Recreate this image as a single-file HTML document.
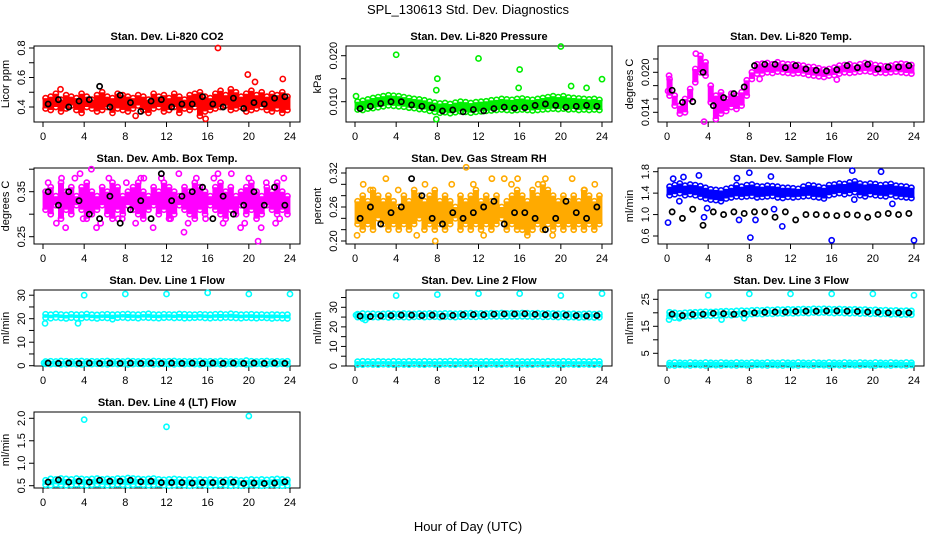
<!DOCTYPE html>
<html><head><meta charset="utf-8"><style>
html,body{margin:0;padding:0;background:#fff;}
svg{display:block;font-family:"Liberation Sans",sans-serif;}
</style></head><body>
<svg id="chart" width="936" height="540" viewBox="0 0 936 540" xmlns="http://www.w3.org/2000/svg">
<text x="468" y="14" text-anchor="middle" font-size="13">SPL_130613  Std. Dev. Diagnostics</text>
<text x="468" y="531" text-anchor="middle" font-size="13">Hour of Day (UTC)</text>
</svg>
<script>
const hours48=[0.25,0.75,1.25,1.75,2.25,2.75,3.25,3.75,4.25,4.75,5.25,5.75,6.25,6.75,7.25,7.75,8.25,8.75,9.25,9.75,10.25,10.75,11.25,11.75,12.25,12.75,13.25,13.75,14.25,14.75,15.25,15.75,16.25,16.75,17.25,17.75,18.25,18.75,19.25,19.75,20.25,20.75,21.25,21.75,22.25,22.75,23.25,23.75];
const hours24=[0.5,1.5,2.5,3.5,4.5,5.5,6.5,7.5,8.5,9.5,10.5,11.5,12.5,13.5,14.5,15.5,16.5,17.5,18.5,19.5,20.5,21.5,22.5,23.5];
const xTicks=[0,4,8,12,16,20,24];

// CO2
const co2Hi=[0.46,0.47,0.49,0.45,0.48,0.47,0.46,0.49,0.47,0.45,0.48,0.50,0.47,0.46,0.49,0.48,0.47,0.46,0.48,0.47,0.45,0.49,0.47,0.48,0.46,0.49,0.47,0.45,0.48,0.49,0.50,0.47,0.46,0.49,0.51,0.48,0.52,0.50,0.47,0.49,0.51,0.48,0.50,0.47,0.49,0.48,0.50,0.47];
const co2Lo=[0.39,0.38,0.40,0.37,0.39,0.41,0.38,0.36,0.40,0.39,0.37,0.38,0.40,0.36,0.39,0.38,0.37,0.39,0.41,0.38,0.36,0.39,0.40,0.37,0.38,0.40,0.36,0.39,0.38,0.40,0.34,0.37,0.38,0.39,0.40,0.41,0.38,0.39,0.40,0.37,0.38,0.39,0.40,0.38,0.37,0.39,0.36,0.38];
const co2Black=[0.42,0.45,0.40,0.44,0.45,0.54,0.40,0.48,0.43,0.37,0.44,0.45,0.40,0.42,0.42,0.47,0.42,0.40,0.46,0.39,0.43,0.42,0.46,0.47];
const co2OutX=[17.0,19.9,20.6,23.3,15.8,1.7,9.0];
const co2OutY=[0.80,0.62,0.57,0.59,0.32,0.52,0.34];
// Pressure
const presHi=[.0100,.0102,.0105,.0108,.0110,.0112,.0114,.0113,.0112,.0110,.0108,.0106,.0105,.0103,.0100,.0098,.0096,.0097,.0095,.0098,.0100,.0099,.0097,.0099,.0100,.0101,.0103,.0104,.0106,.0105,.0104,.0106,.0107,.0105,.0104,.0106,.0108,.0110,.0112,.0110,.0112,.0109,.0108,.0107,.0106,.0105,.0106,.0104];
const presLo=[.0083,.0082,.0085,.0086,.0088,.0090,.0092,.0091,.0090,.0089,.0087,.0086,.0084,.0083,.0080,.0078,.0076,.0077,.0075,.0077,.0079,.0078,.0076,.0078,.0079,.0080,.0081,.0082,.0083,.0082,.0081,.0082,.0083,.0082,.0081,.0082,.0083,.0084,.0085,.0084,.0085,.0083,.0084,.0082,.0083,.0082,.0083,.0082];
const presBlack=[.0085,.0090,.0096,.0100,.0100,.0093,.0090,.0087,.0080,.0082,.0078,.0083,.0080,.0085,.0088,.0086,.0087,.0092,.0095,.0092,.0088,.0090,.0092,.0090];
const presOutX=[0.1,4.0,8.0,12.0,16.0,15.9,20.0,21.0,22.5,24.0,7.9,7.9];
const presOutY=[.0112,.0202,.0150,.0194,.0170,.0130,.0220,.0134,.0130,.0149,.0125,.0062];
// Li-820 temperature
const tempHi=[.0190,.0165,.0150,.0160,.0175,.0205,.0225,.0215,.0180,.0165,.0170,.0160,.0168,.0165,.0170,.0188,.0200,.0212,.0213,.0214,.0212,.0215,.0213,.0212,.0212,.0211,.0210,.0208,.0208,.0206,.0204,.0205,.0207,.0210,.0211,.0212,.0210,.0212,.0214,.0213,.0211,.0210,.0209,.0210,.0212,.0213,.0212,.0211];
const tempLo=[.0165,.0150,.0138,.0140,.0160,.0185,.0200,.0195,.0155,.0130,.0138,.0142,.0148,.0145,.0150,.0165,.0190,.0198,.0198,.0200,.0199,.0201,.0200,.0199,.0198,.0199,.0198,.0196,.0195,.0194,.0193,.0195,.0196,.0198,.0200,.0199,.0200,.0201,.0202,.0201,.0199,.0200,.0199,.0200,.0201,.0200,.0199,.0198];
const tempBlack=[.0173,.0155,.0156,.0200,.0150,.0162,.0168,.0178,.0210,.0212,.0212,.0207,.0210,.0205,.0203,.0202,.0204,.0210,.0207,.0212,.0205,.0208,.0208,.0210];
const tempOutX=[0.2,0.1,2.8,3.6,9.0,16.5];
const tempOutY=[.0195,.0172,.0228,.0126,.0190,.0189];
// Ambient box temperature
const ambHi=[.35,.36,.34,.37,.35,.36,.34,.36,.37,.35,.34,.36,.35,.37,.36,.34,.35,.36,.37,.35,.34,.36,.35,.37,.36,.35,.34,.36,.35,.37,.36,.35,.34,.36,.37,.35,.36,.34,.35,.36,.37,.35,.34,.36,.35,.37,.35,.34];
const ambLo=[.31,.30,.32,.29,.31,.30,.32,.31,.29,.30,.31,.32,.30,.29,.31,.30,.32,.31,.30,.29,.31,.32,.30,.31,.29,.30,.32,.31,.30,.29,.31,.30,.32,.31,.30,.29,.31,.30,.32,.30,.31,.29,.30,.32,.31,.30,.31,.30];
const ambBlack=[.35,.32,.35,.33,.30,.29,.34,.28,.31,.33,.29,.39,.33,.34,.35,.36,.29,.34,.30,.32,.35,.32,.36,.32];
const ambOutX=[0.5,1.3,2.2,3.1,3.9,4.7,5.6,6.4,7.3,8.1,9.0,9.8,10.7,11.5,12.4,13.2,14.1,14.9,15.8,16.6,17.5,18.3,19.2,20.0,20.9,21.7,22.6,23.4,1.8,5.2,9.5,13.7,17.0,19.6,21.2,23.0,3.6,7.7];
const ambOutY=[.37,.28,.27,.38,.29,.40,.28,.38,.29,.37,.28,.38,.27,.38,.29,.39,.28,.38,.29,.38,.28,.39,.27,.38,.24,.37,.28,.38,.38,.27,.38,.26,.39,.28,.27,.29,.39,.29];
// Gas stream RH
const rhHi=[.27,.28,.27,.29,.28,.27,.28,.27,.26,.28,.27,.29,.28,.27,.28,.29,.27,.28,.27,.26,.28,.27,.28,.29,.27,.28,.27,.28,.26,.27,.28,.29,.28,.27,.29,.28,.30,.29,.28,.27,.28,.27,.28,.27,.29,.28,.27,.28];
const rhLo=[.23,.22,.23,.22,.24,.23,.22,.23,.22,.23,.22,.23,.24,.22,.23,.22,.23,.22,.23,.24,.22,.23,.22,.23,.22,.23,.22,.23,.24,.22,.23,.22,.22,.21,.22,.23,.22,.23,.22,.23,.22,.23,.22,.23,.22,.23,.22,.23];
const rhBlack=[.24,.26,.23,.25,.26,.31,.28,.24,.23,.25,.24,.25,.26,.27,.23,.25,.25,.24,.22,.24,.27,.25,.24,.26];
const rhOutX=[0.2,0.8,1.5,3.0,4.2,6.8,7.8,9.4,10.8,11.5,13.3,14.5,15.2,15.8,17.8,18.5,19.2,21.1,22.3,23.3,6.0,12.5];
const rhOutY=[.21,.30,.29,.31,.29,.30,.20,.30,.33,.30,.31,.31,.30,.31,.30,.31,.21,.31,.29,.30,.21,.21];
// Sample flow
const sfHi=[1.52,1.55,1.58,1.54,1.56,1.55,1.53,1.50,1.47,1.46,1.45,1.48,1.50,1.55,1.52,1.55,1.56,1.53,1.52,1.54,1.53,1.52,1.50,1.50,1.49,1.48,1.52,1.55,1.54,1.52,1.50,1.55,1.56,1.58,1.57,1.60,1.62,1.58,1.56,1.58,1.57,1.55,1.56,1.57,1.54,1.53,1.52,1.50];
const sfLo=[1.36,1.38,1.40,1.36,1.38,1.36,1.33,1.30,1.28,1.27,1.25,1.30,1.32,1.34,1.33,1.34,1.35,1.32,1.33,1.34,1.35,1.32,1.31,1.33,1.32,1.33,1.34,1.35,1.33,1.32,1.30,1.36,1.38,1.40,1.38,1.40,1.42,1.36,1.34,1.38,1.36,1.35,1.34,1.37,1.34,1.33,1.32,1.31];
const sfBlack=[1.05,0.93,1.10,0.80,1.05,1.00,1.05,1.02,1.05,1.05,0.95,1.05,0.90,1.00,1.00,0.99,0.98,1.00,0.99,0.95,1.00,1.02,1.00,1.02];
const sfOutX=[0.1,0.6,1.2,1.6,3.1,3.6,3.9,6.8,7.0,8.0,8.1,8.6,10.1,10.4,16.0,18.0,18.2,20.8,24.0,21.9,11.2];
const sfOutY=[0.85,1.67,1.25,1.70,1.73,0.95,1.12,1.68,0.90,1.78,0.57,0.90,1.71,1.10,0.52,1.82,1.28,1.80,0.52,1.20,0.78];
// Line 1 flow
const l1Hi=[21.9,21.7,22.0,21.8,21.6,21.9,21.7,21.8,22.0,21.7,21.6,21.8,21.9,21.7,21.8,21.9,22.0,21.8,21.7,21.9,22.1,21.8,21.7,21.9,21.8,21.7,22.0,21.9,21.8,21.7,21.9,21.8,21.7,21.9,22.0,21.8,22.1,21.9,21.7,21.8,21.9,21.7,21.8,21.6,21.8,21.7,21.6,21.7];
const l1Lo=[20.4,20.2,20.5,20.3,20.1,20.4,20.3,20.2,20.5,20.3,20.1,20.4,20.3,19.8,20.4,20.5,20.3,20.4,20.2,20.5,20.4,20.3,20.2,20.4,20.5,20.3,20.4,20.2,20.3,20.4,20.5,20.3,20.2,20.4,20.3,20.5,20.4,20.3,20.2,20.4,20.3,20.2,20.4,20.3,20.1,20.3,20.2,20.1];
const l1BaseHi=[1.8,1.9,1.8,2.0,1.9,1.8,1.9,2.0,1.8,1.9,1.8,1.9,2.0,1.8,1.9,1.8,2.0,1.9,1.8,1.9,1.8,2.0,1.9,1.8,1.9,2.0,1.8,1.9,1.8,1.9,2.0,1.8,1.9,1.8,2.0,1.9,1.8,1.9,1.8,2.2,1.9,1.8,1.9,2.0,1.8,1.9,1.8,1.9];
const l1BaseLo=[0.8,0.7,0.8,0.6,0.7,0.8,0.7,0.6,0.8,0.7,0.8,0.7,0.6,0.8,0.7,0.8,0.6,0.7,0.8,0.7,0.8,0.6,0.7,0.8,0.7,0.6,0.8,0.7,0.8,0.7,0.6,0.8,0.7,0.8,0.6,0.7,0.8,0.7,0.8,0.6,0.7,0.8,0.7,0.6,0.8,0.7,0.8,0.7];
const l1Black=[1.1,1.0,1.1,1.0,1.1,1.0,1.1,1.0,1.1,1.0,1.1,1.0,1.1,1.0,1.1,1.0,1.1,1.0,1.1,1.0,1.1,1.0,1.1,1.0];
const l1OutX=[0.2,3.4,4.0,8.0,12.0,16.0,20.0,24.0,0.1];
const l1OutY=[18.0,18.0,30.0,30.5,30.5,31.0,30.5,30.5,1.2];
// Line 2 flow
const l2Hi=[26.5,26.8,26.6,26.7,26.5,26.6,26.8,26.7,26.6,26.8,26.7,26.6,26.8,26.7,26.9,26.8,26.7,26.9,26.8,26.7,26.8,26.9,27.0,26.8,26.9,26.8,27.0,26.9,27.1,26.9,27.0,26.9,27.1,27.0,26.9,27.0,26.8,26.9,26.8,26.7,26.8,26.6,26.7,26.5,26.6,26.7,26.5,26.6];
const l2Lo=[25.0,24.2,24.8,25.0,24.9,25.1,24.8,25.0,25.1,25.0,24.9,25.1,25.2,25.0,25.1,25.2,25.0,25.2,25.1,25.0,25.2,25.3,25.2,25.1,25.3,25.2,25.4,25.3,25.4,25.3,25.4,25.3,25.4,25.3,25.2,25.3,25.1,25.2,25.1,25.0,25.1,24.9,25.0,24.8,24.9,25.0,24.8,24.9];
const l2BaseHi=[2.2,2.4,2.3,2.2,2.4,2.3,2.2,2.4,2.3,2.2,2.4,2.3,2.2,2.4,2.3,2.2,2.4,2.3,2.5,2.4,2.3,2.2,2.4,2.3,2.2,2.4,2.3,2.2,2.4,2.3,2.2,2.4,2.3,2.2,2.4,2.3,2.2,2.4,2.3,2.2,2.4,2.3,2.2,2.4,2.3,2.2,2.4,2.3];
const l2BaseLo=[0.8,0.7,0.9,0.8,0.7,0.9,0.8,0.7,0.9,0.8,0.7,0.9,0.8,0.7,0.9,0.8,0.7,0.9,0.8,0.7,0.9,0.8,0.7,0.9,0.8,0.7,0.9,0.8,0.7,0.9,0.8,0.7,0.9,0.8,0.7,0.9,0.8,0.7,0.9,0.8,0.7,0.9,0.8,0.7,0.9,0.8,0.7,0.9];
const l2Black=[25.5,25.3,25.6,25.8,26.0,26.0,25.8,26.0,25.5,25.9,26.2,26.3,26.2,26.5,26.6,26.6,26.7,26.4,26.2,26.0,26.0,25.8,25.6,25.8];
const l2OutX=[4.0,8.0,12.0,16.0,20.0,24.0,0.1,1.0];
const l2OutY=[36.0,36.5,37.0,37.0,36.0,37.0,26.0,23.5];
// Line 3 flow
const l3Hi=[20.2,20.0,19.8,20.0,20.1,20.2,20.3,20.4,20.3,20.4,20.5,20.6,20.5,20.7,20.8,20.7,20.9,21.0,20.9,21.1,21.0,21.2,21.1,21.3,21.2,21.3,21.4,21.3,21.5,21.4,21.5,21.4,21.3,21.4,21.3,21.2,21.3,21.1,21.2,21.0,21.1,20.9,21.0,20.8,20.9,20.7,20.8,20.7];
const l3Lo=[18.8,18.2,18.5,18.6,18.7,18.8,18.9,19.0,18.9,19.0,19.1,19.2,19.1,19.3,19.4,19.3,19.5,19.6,19.5,19.7,19.6,19.8,19.7,19.9,19.8,19.9,20.0,19.9,20.1,20.0,20.1,20.0,19.9,20.0,19.9,19.8,19.9,19.7,19.8,19.6,19.7,19.5,19.6,19.4,19.5,19.3,19.4,19.3];
const l3BaseHi=[1.4,1.6,1.5,1.4,1.6,1.5,1.4,1.6,1.5,1.4,1.6,1.5,1.4,1.6,1.5,1.4,1.6,1.5,1.4,1.6,1.5,1.4,1.6,1.5,1.4,1.6,1.5,1.4,1.6,1.5,1.4,1.6,1.5,1.4,1.6,1.5,1.4,1.6,1.5,1.4,1.6,1.5,1.4,1.6,1.5,1.4,1.6,1.5];
const l3BaseLo=[0.6,0.5,0.7,0.6,0.5,0.7,0.6,0.5,0.7,0.6,0.5,0.7,0.6,0.5,0.7,0.6,0.5,0.7,0.6,0.5,0.7,0.6,0.5,0.7,0.6,0.5,0.7,0.6,0.5,0.7,0.6,0.5,0.7,0.6,0.5,0.7,0.6,0.5,0.7,0.6,0.5,0.7,0.6,0.5,0.7,0.6,0.5,0.7];
const l3Black=[19.5,19.0,19.4,19.5,19.8,19.7,19.5,19.8,20.0,20.2,20.3,20.3,20.5,20.6,20.6,20.7,20.7,20.6,20.5,20.3,20.2,20.0,20.0,20.0];
const l3OutX=[4.0,8.0,12.0,16.0,20.0,24.0,0.2,1.2,5.3,7.5];
const l3OutY=[26.5,27.0,27.0,27.0,27.0,26.5,17.5,18.0,17.5,18.0];
// Line 4 flow
const l4Hi=[0.62,0.65,0.64,0.66,0.65,0.64,0.66,0.65,0.64,0.65,0.66,0.64,0.65,0.64,0.66,0.65,0.67,0.66,0.65,0.64,0.65,0.66,0.64,0.63,0.64,0.65,0.64,0.63,0.64,0.63,0.64,0.63,0.64,0.63,0.62,0.63,0.64,0.63,0.62,0.63,0.64,0.63,0.64,0.63,0.64,0.65,0.64,0.63];
const l4Lo=[0.52,0.51,0.53,0.52,0.51,0.52,0.53,0.52,0.51,0.52,0.53,0.52,0.51,0.52,0.53,0.52,0.51,0.52,0.53,0.52,0.51,0.52,0.53,0.51,0.50,0.51,0.52,0.51,0.50,0.51,0.52,0.51,0.50,0.51,0.52,0.51,0.50,0.51,0.50,0.51,0.52,0.51,0.50,0.51,0.52,0.51,0.50,0.51];
const l4Black=[0.58,0.63,0.58,0.60,0.58,0.62,0.60,0.60,0.62,0.59,0.60,0.57,0.57,0.57,0.56,0.57,0.57,0.58,0.58,0.55,0.56,0.55,0.56,0.59];
const l4OutX=[4.0,12.0,20.0];
const l4OutY=[1.97,1.81,2.05];

const NS="http://www.w3.org/2000/svg";
const svg=document.getElementById('chart');
function mk(tag,attrs,parent){const e=document.createElementNS(NS,tag);for(const k in attrs)e.setAttribute(k,attrs[k]);(parent||svg).appendChild(e);return e;}

const ROW_TOP=[46,168,290,412];
const BOX_H=76;

function drawPanel(p){
  const g=mk('g',{});
  
  
  const left=p.col*312+34, right=left+266, top=ROW_TOP[p.row], bottom=top+BOX_H;
  const xs=h=>left+9+h*(247/24);
  const ys=v=>p.p1+(v-p.v1)*(p.p2-p.p1)/(p.v2-p.v1);
  const t=mk('text',{x:(left+right)/2,y:top-6,'text-anchor':'middle','font-size':11,'font-weight':'bold'},g);
  t.textContent=p.title;
  
  
  const box=mk('rect',{x:left,y:top,width:266,height:BOX_H,fill:'none',stroke:'#000','stroke-width':1},g);
  
  
  const xa=mk('g',{},g);
  
  
  mk('line',{x1:xs(0),x2:xs(24),y1:bottom,y2:bottom,stroke:'#000'},xa);
  xTicks.forEach(v=>{
    mk('line',{x1:xs(v),x2:xs(v),y1:bottom,y2:bottom+5,stroke:'#000'},xa);
    const l=mk('text',{x:xs(v),y:bottom+18,'text-anchor':'middle','font-size':11},xa);
    l.textContent=v;
    
    
  });
  const ya=mk('g',{},g);
  
  
  mk('line',{x1:left,x2:left,y1:ys(p.ticks[0]),y2:ys(p.ticks[p.ticks.length-1]),stroke:'#000'},ya);
  p.ticks.forEach(v=>mk('line',{x1:left-5,x2:left,y1:ys(v),y2:ys(v),stroke:'#000'},ya));
  p.labels.forEach((s,i)=>{
    const y=ys(p.labelVals[i]);
    const l=mk('text',{x:left-9,y:y,'text-anchor':'middle','font-size':11,transform:`rotate(-90 ${left-9} ${y})`},ya);
    l.textContent=s;
    
    
  });
  const yl=mk('text',{x:left-25,y:(top+bottom)/2,'text-anchor':'middle','font-size':11,transform:`rotate(-90 ${left-25} ${(top+bottom)/2})`},g);
  yl.textContent=p.ylab;
  
  
  p.bands.forEach(b=>{
    const bg=mk('g',{fill:'none',stroke:p.color},g);
    
    
    hours48.forEach((h,i)=>{
      const ln=mk('line',{x1:xs(h),x2:xs(h),y1:ys(b[0][i]),y2:ys(b[1][i]),'stroke-width':6},bg);
      
      
      [b[0][i],b[1][i]].forEach(v=>{
        const c=mk('circle',{cx:xs(h),cy:ys(v),r:2.6,'stroke-width':1.6},bg);
        
        
      });
    });
  });
  const og=mk('g',{fill:'none',stroke:p.color},g);
  
  
  p.outX.forEach((h,i)=>{
    const c=mk('circle',{cx:xs(h),cy:ys(p.outY[i]),r:2.6,'stroke-width':1.6},og);
    
    
  });
  const kg=mk('g',{fill:'none',stroke:'#000'},g);
  
  
  hours24.forEach((h,i)=>{
    const c=mk('circle',{cx:xs(h),cy:ys(p.black[i]),r:2.6,'stroke-width':1.7},kg);
    
    
  });
}

const panels=[
 {name:'panel-co2',col:0,row:0,title:'Stan. Dev. Li-820 CO2',ylab:'Licor ppm',v1:0.4,p1:107,v2:0.8,p2:48,ticks:[0.4,0.5,0.6,0.7,0.8],labelVals:[0.4,0.6,0.8],labels:['0.4','0.6','0.8'],color:'#ff0000',bands:[[co2Hi,co2Lo]],black:co2Black,outX:co2OutX,outY:co2OutY},
 {name:'panel-pressure',col:1,row:0,title:'Stan. Dev. Li-820 Pressure',ylab:'kPa',v1:0.010,p1:101.7,v2:0.020,p2:55.7,ticks:[0.010,0.015,0.020],labelVals:[0.010,0.020],labels:['0.010','0.020'],color:'#00ee00',bands:[[presHi,presLo]],black:presBlack,outX:presOutX,outY:presOutY},
 {name:'panel-temp',col:2,row:0,title:'Stan. Dev. Li-820 Temp.',ylab:'degrees C',v1:0.020,p1:72.3,v2:0.014,p2:112.3,ticks:[0.014,0.016,0.018,0.020,0.022],labelVals:[0.014,0.020],labels:['0.014','0.020'],color:'#ff00ff',bands:[[tempHi,tempLo]],black:tempBlack,outX:tempOutX,outY:tempOutY},
 {name:'panel-amb-box-temp',col:0,row:1,title:'Stan. Dev. Amb. Box Temp.',ylab:'degrees C',v1:0.35,p1:191.7,v2:0.25,p2:236.7,ticks:[0.25,0.30,0.35,0.40],labelVals:[0.25,0.35],labels:['0.25','0.35'],color:'#ff00ff',bands:[[ambHi,ambLo]],black:ambBlack,outX:ambOutX,outY:ambOutY},
 {name:'panel-gas-rh',col:1,row:1,title:'Stan. Dev. Gas Stream RH',ylab:'percent',v1:0.20,p1:241,v2:0.32,p2:173,ticks:[0.20,0.22,0.24,0.26,0.28,0.30,0.32],labelVals:[0.20,0.26,0.32],labels:['0.20','0.26','0.32'],color:'#ffaa00',bands:[[rhHi,rhLo]],black:rhBlack,outX:rhOutX,outY:rhOutY},
 {name:'panel-sample-flow',col:2,row:1,title:'Stan. Dev. Sample Flow',ylab:'ml/min',v1:1.8,p1:171.7,v2:0.6,p2:236,ticks:[0.6,1.0,1.4,1.8],labelVals:[0.6,1.0,1.4,1.8],labels:['0.6','1.0','1.4','1.8'],color:'#0000ff',bands:[[sfHi,sfLo]],black:sfBlack,outX:sfOutX,outY:sfOutY},
 {name:'panel-line1-flow',col:0,row:2,title:'Stan. Dev. Line 1 Flow',ylab:'ml/min',v1:0,p1:365.7,v2:30,p2:295.2,ticks:[0,5,10,15,20,25,30],labelVals:[0,10,20,30],labels:['0','10','20','30'],color:'#00ffff',bands:[[l1Hi,l1Lo],[l1BaseHi,l1BaseLo]],black:l1Black,outX:l1OutX,outY:l1OutY},
 {name:'panel-line2-flow',col:1,row:2,title:'Stan. Dev. Line 2 Flow',ylab:'ml/min',v1:0,p1:366,v2:30,p2:307.3,ticks:[0,5,10,15,20,25,30,35],labelVals:[0,10,20,30],labels:['0','10','20','30'],color:'#00ffff',bands:[[l2Hi,l2Lo],[l2BaseHi,l2BaseLo]],black:l2Black,outX:l2OutX,outY:l2OutY},
 {name:'panel-line3-flow',col:2,row:2,title:'Stan. Dev. Line 3 Flow',ylab:'ml/min',v1:5,p1:353.3,v2:25,p2:299.3,ticks:[5,10,15,20,25],labelVals:[5,15,25],labels:['5','15','25'],color:'#00ffff',bands:[[l3Hi,l3Lo],[l3BaseHi,l3BaseLo]],black:l3Black,outX:l3OutX,outY:l3OutY},
 {name:'panel-line4-flow',col:0,row:3,title:'Stan. Dev. Line 4 (LT) Flow',ylab:'ml/min',v1:0.5,p1:485.7,v2:2.0,p2:418.3,ticks:[0.5,1.0,1.5,2.0],labelVals:[0.5,1.0,1.5,2.0],labels:['0.5','1.0','1.5','2.0'],color:'#00ffff',bands:[[l4Hi,l4Lo]],black:l4Black,outX:l4OutX,outY:l4OutY}
];
panels.forEach(drawPanel);
</script>
</body></html>
